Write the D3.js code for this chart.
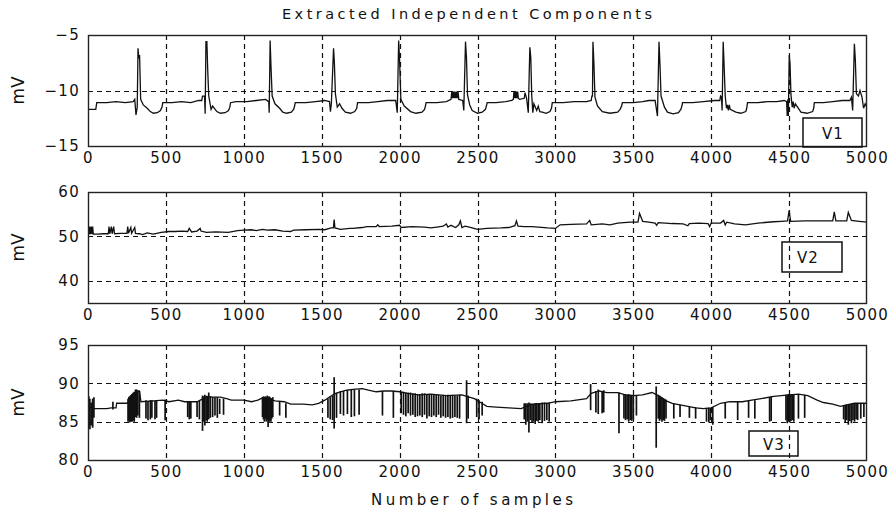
<!DOCTYPE html>
<html><head><meta charset="utf-8">
<script src="https://cdn.jsdelivr.net/npm/d3@7"></script>
<style>body{margin:0;background:#fff;} svg{display:block;}</style>
</head><body>
<svg id="c" width="893" height="515"></svg>
<script>
// ---------- DATA ----------
const title = "Extracted Independent Components";
const xLabel = "Number of samples";
const yLabel = "mV";
const xTicks = [0,500,1000,1500,2000,2500,3000,3500,4000,4500,5000];
const xGrid = [500,1000,1500,2000,2500,3000,3500,4000,4500];
const v1Ticks = [-15,-10,-5];   const v1Grid = [-10];
const v2Ticks = [40,50,60];     const v2Grid = [40,50];
const v3Ticks = [80,85,90,95];  const v3Grid = [85,90];
const legendNames = ["V1","V2","V3"];

// V1: [sample, mV]
const v1 = [
[0,-11.7],[50,-11.7],[56,-11.1],[120,-11.1],[180,-11.0],[240,-11.1],[290,-11.0],[300,-10.8],[308,-12.2],[316,-11.5],[321,-6.2],[326,-7.1],[331,-6.8],[338,-10.8],[355,-11.3],[380,-11.6],[400,-11.9],[420,-12.05],[445,-12.0],[465,-11.8],[475,-11.5],[480,-11.1],
[540,-11.1],[600,-11.0],[660,-11.1],[710,-10.9],[730,-10.9],[735,-10.5],[748,-10.5],[752,-12.1],[757,-5.6],[763,-5.6],[768,-8.0],[775,-10.5],[790,-11.7],[800,-11.4],[827,-11.9],[850,-12.05],[880,-12.0],[902,-11.8],[910,-11.5],[915,-11.1],
[950,-11.0],[1020,-11.0],[1080,-10.9],[1140,-10.8],[1160,-11.0],[1163,-12.0],[1169,-5.5],[1175,-8.0],[1182,-10.5],[1200,-11.2],[1230,-11.6],[1250,-11.95],[1275,-12.05],[1305,-11.95],[1320,-11.7],[1326,-11.4],[1330,-11.1],
[1400,-11.1],[1460,-11.0],[1520,-10.9],[1550,-11.0],[1556,-11.9],[1562,-11.2],[1576,-6.2],[1581,-7.4],[1588,-10.3],[1600,-11.5],[1615,-11.2],[1630,-11.6],[1652,-11.95],[1685,-12.05],[1712,-11.9],[1725,-11.6],[1730,-11.1],
[1800,-11.1],[1860,-11.0],[1920,-10.9],[1975,-10.9],[1985,-12.0],[1994,-5.5],[2000,-7.3],[2008,-10.8],[2030,-11.4],[2070,-11.9],[2105,-12.05],[2144,-11.95],[2160,-11.7],[2166,-11.4],[2170,-11.1],
[2240,-11.1],[2300,-11.0],[2330,-10.8],[2335,-10.1],[2340,-10.7],[2345,-10.1],[2350,-10.7],[2355,-10.1],[2360,-10.7],[2365,-10.1],[2370,-10.7],[2375,-10.1],[2380,-10.8],[2405,-10.9],[2412,-11.8],[2423,-5.6],[2429,-7.0],[2436,-10.4],[2450,-11.3],[2466,-11.8],[2500,-12.05],[2530,-11.95],[2551,-11.7],[2557,-11.4],[2562,-11.1],
[2620,-11.1],[2680,-11.0],[2720,-10.9],[2730,-10.8],[2734,-10.1],[2738,-10.7],[2742,-10.1],[2746,-10.7],[2750,-10.1],[2754,-10.7],[2758,-10.1],[2762,-10.7],[2770,-10.8],[2800,-10.7],[2805,-10.2],[2815,-10.7],[2826,-12.0],[2836,-6.1],[2842,-7.0],[2848,-10.4],[2855,-12.0],[2862,-11.2],[2880,-11.8],[2890,-11.4],[2900,-11.9],[2916,-11.95],[2940,-12.05],[2965,-11.9],[2975,-11.6],[2980,-11.1],
[3050,-11.1],[3120,-11.0],[3200,-11.0],[3230,-10.9],[3234,-10.5],[3238,-10.5],[3241,-5.6],[3247,-7.5],[3254,-10.6],[3270,-11.4],[3301,-11.9],[3350,-12.05],[3400,-11.95],[3415,-11.7],[3425,-11.4],[3430,-11.1],
[3500,-11.1],[3560,-11.0],[3600,-10.9],[3640,-10.9],[3655,-12.3],[3665,-5.6],[3671,-7.6],[3678,-10.5],[3700,-11.5],[3719,-11.95],[3755,-12.1],[3790,-12.0],[3805,-11.7],[3812,-11.4],[3816,-11.1],
[3880,-11.1],[3950,-11.0],[4020,-10.9],[4055,-10.9],[4060,-10.5],[4066,-10.6],[4070,-11.8],[4077,-5.6],[4083,-7.8],[4090,-10.5],[4098,-11.6],[4104,-11.3],[4110,-11.8],[4116,-11.3],[4122,-11.7],[4158,-11.95],[4190,-12.05],[4222,-11.9],[4228,-11.6],[4233,-11.1],
[4300,-11.1],[4360,-11.0],[4420,-11.0],[4470,-10.9],[4484,-11.0],[4488,-12.3],[4492,-10.8],[4495,-12.3],[4501,-6.8],[4506,-7.6],[4512,-10.4],[4520,-11.5],[4526,-11.0],[4532,-11.6],[4540,-11.2],[4576,-11.95],[4615,-12.05],[4651,-11.9],[4658,-11.6],[4662,-11.1],
[4720,-11.1],[4780,-11.0],[4840,-10.9],[4890,-10.9],[4900,-10.6],[4908,-11.8],[4919,-5.8],[4925,-7.2],[4932,-10.3],[4945,-10.5],[4955,-10.0],[4968,-10.6],[4978,-11.6],[4988,-11.2],[5000,-11.5]
];

// V2: [sample, mV]
const v2 = [
[0,50.5],[6,52.2],[8,50.5],[12,52.2],[15,50.5],[22,52.2],[25,50.5],[30,52.2],[34,50.5],[60,50.5],[100,50.6],[130,50.6],[135,52.2],[140,50.6],[150,52.2],[155,50.6],[165,52.2],[170,50.6],[210,50.7],
[250,50.7],[255,52.2],[260,50.7],[275,52.0],[280,50.7],[300,52.0],[305,50.7],[330,50.6],[350,50.4],[380,50.8],[420,50.5],[470,50.9],[520,51.1],[560,51.1],[600,51.2],[640,51.1],[650,51.8],[665,51.0],
[700,51.2],[720,51.8],[725,51.2],[760,50.9],[820,51.0],[900,50.9],[960,51.3],[1000,51.4],[1050,51.5],[1080,51.3],[1120,51.6],[1150,51.4],[1200,51.5],[1250,51.2],[1300,51.1],[1320,51.4],[1400,51.5],
[1480,51.6],[1520,51.5],[1560,51.9],[1575,51.9],[1580,53.8],[1585,51.9],[1620,51.6],[1680,51.8],[1700,51.8],[1760,52.0],[1790,52.2],[1850,52.2],[1860,52.6],[1870,52.2],[1950,52.3],[2000,52.5],
[2010,52.0],[2080,52.2],[2160,52.1],[2200,51.9],[2240,52.1],[2280,52.3],[2300,52.8],[2310,52.1],[2330,52.5],[2360,52.0],[2380,52.6],[2390,53.5],[2400,52.0],[2420,52.3],[2460,52.0],[2500,51.6],
[2560,51.8],[2650,51.9],[2700,52.0],[2740,52.4],[2750,53.5],[2760,52.3],[2800,52.2],[2850,52.2],[2950,51.9],[3000,51.8],[3030,52.6],[3100,52.7],[3200,52.8],[3220,53.6],[3230,52.6],[3300,52.8],
[3350,52.6],[3400,53.0],[3480,53.2],[3530,53.2],[3540,55.2],[3560,53.4],[3600,53.2],[3640,53.0],[3650,52.5],[3660,53.1],[3750,52.9],[3820,52.8],[3850,52.4],[3860,52.9],[3920,53.0],[3980,52.9],
[3990,52.2],[4000,53.0],[4060,53.0],[4080,53.6],[4090,52.6],[4100,53.2],[4150,52.8],[4220,52.6],[4300,53.0],[4400,53.3],[4450,53.4],[4490,53.5],[4500,55.8],[4510,53.4],[4600,53.5],[4700,53.5],
[4780,53.5],[4790,55.5],[4800,53.5],[4870,53.5],[4880,55.4],[4900,53.6],[4950,53.4],[5000,53.2]
];

// V3 slow trace: [sample, mV]
const v3 = [
[0,86.7],[20,86.9],[40,86.7],[120,86.7],[150,86.8],[180,86.8],[184,87.4],[250,87.4],[260,87.6],[300,88.7],[330,89.0],[340,87.6],[420,87.7],[480,87.8],[520,87.6],[580,87.8],[620,87.6],[700,87.6],
[730,87.9],[760,88.3],[800,88.2],[850,88.2],[890,88.0],[920,87.8],[1000,87.8],[1050,87.6],[1090,87.8],[1120,88.1],[1160,88.0],[1200,87.7],[1260,87.6],[1300,87.3],[1380,87.3],[1440,87.2],[1480,87.4],
[1520,87.8],[1550,88.2],[1580,88.6],[1620,88.9],[1660,89.1],[1700,89.2],[1760,89.3],[1800,89.1],[1850,88.9],[1900,89.0],[1950,89.0],[2000,88.9],[2050,88.7],[2120,88.5],[2200,88.6],[2300,88.4],
[2400,88.5],[2430,88.3],[2480,88.0],[2520,87.5],[2560,87.0],[2620,86.9],[2700,86.8],[2780,86.7],[2850,87.3],[2950,87.4],[3000,87.6],[3100,87.7],[3200,88.0],[3230,88.7],[3280,89.0],[3330,88.8],
[3400,88.8],[3450,88.5],[3500,88.4],[3560,88.5],[3620,88.8],[3660,88.4],[3700,87.8],[3750,87.4],[3800,87.2],[3850,87.0],[3900,86.8],[3950,86.7],[4000,86.8],[4060,87.4],[4120,87.6],[4200,87.6],
[4260,87.8],[4320,88.0],[4400,88.3],[4450,88.4],[4500,88.5],[4560,88.6],[4620,88.4],[4680,87.8],[4720,87.5],[4780,87.3],[4830,87.0],[4870,87.2],[4920,87.4],[5000,87.4]
];

// V3 artefact spikes: [sample, top mV, bottom mV]
const v3Spikes = [
[5,88.3,85.0],[12,88.0,84.0],[20,87.5,84.5],[30,88.0,84.2],[38,88.2,85.5],[160,87.6,86.6],
[257,88.0,85.0],[262,88.2,85.2],[267,88.3,84.9],[272,88.4,85.0],[277,88.5,85.0],[282,88.6,85.1],[287,88.7,85.0],[292,88.8,85.2],[297,88.9,85.0],
[305,89.2,85.6],[312,89.2,85.5],[320,89.1,85.8],[330,89.0,85.5],
[372,87.8,85.4],[385,87.7,85.2],[400,87.8,85.3],[410,87.8,85.5],[430,87.7,85.3],[440,87.7,85.5],[495,87.9,85.2],
[640,87.7,85.6],[650,87.7,85.3],[660,87.6,85.4],[700,87.6,85.6],[715,87.7,85.3],
[735,88.4,83.8],[742,88.3,85.0],[750,88.5,84.5],[758,88.2,85.2],[765,88.3,85.0],[775,88.8,85.3],[785,88.3,85.5],[800,88.2,85.6],[815,88.2,85.8],[830,88.2,85.5],[845,88.0,86.0],[870,88.0,85.9],
[1120,88.2,85.6],[1126,88.3,85.3],[1132,88.2,85.0],[1138,88.3,85.4],[1144,88.2,85.0],[1150,88.4,85.2],[1156,88.2,84.3],[1162,88.3,85.0],[1168,88.2,85.1],[1174,88.1,85.0],[1180,88.0,85.4],[1186,88.2,85.6],
[1230,87.7,85.8],[1270,87.4,85.5],
[1540,88.0,85.5],[1555,88.2,85.3],[1570,88.4,85.2],[1580,90.8,84.1],[1595,88.8,85.5],
[1620,89.0,86.0],[1640,89.0,85.8],[1665,89.1,86.0],[1690,89.2,85.6],[1710,89.2,85.7],[1740,89.2,85.9],[1890,89.0,85.8],[1960,89.0,85.5],
[2010,88.9,86.1],[2025,88.9,85.9],[2040,88.8,85.7],[2055,88.8,86.1],[2070,88.8,85.8],[2085,88.7,85.9],[2100,88.7,85.6],[2115,88.6,85.7],
[2130,88.6,85.8],[2145,88.7,85.6],[2160,88.7,85.9],[2175,88.6,85.4],[2190,88.6,85.7],[2205,88.6,85.6],[2220,88.5,85.8],[2235,88.5,85.6],[2250,88.5,85.9],[2265,88.4,85.5],[2280,88.5,85.7],[2295,88.4,85.5],
[2310,88.5,85.6],[2325,88.4,85.4],[2340,88.5,85.5],[2355,88.4,85.6],[2370,88.4,85.5],[2385,88.5,85.4],
[2430,90.4,84.8],[2440,88.4,85.4],[2495,88.0,85.6],[2510,87.8,85.3],[2530,87.6,85.8],
[2800,87.4,85.3],[2810,87.4,84.6],[2820,87.4,85.0],[2830,87.5,83.6],[2840,87.4,85.2],[2850,87.3,84.9],[2860,87.3,85.0],[2870,87.4,84.7],[2880,87.4,85.1],[2890,87.4,85.0],[2900,87.4,85.2],[2915,87.5,84.8],[2930,87.5,85.1],[2945,87.4,85.2],[2960,87.5,85.0],
[3226,89.9,86.5],[3260,89.0,86.2],[3275,89.2,86.0],[3300,89.0,86.1],[3310,89.1,86.2],[3408,88.8,83.5],
[3440,88.6,85.4],[3450,88.6,85.2],[3460,88.5,85.3],[3470,88.6,85.0],[3480,88.5,85.2],[3490,88.5,85.1],[3500,88.5,85.3],[3520,88.4,85.8],
[3647,89.6,81.6],
[3660,88.5,85.4],[3668,88.4,85.1],[3676,88.3,85.3],[3684,88.2,85.0],[3692,88.1,85.2],[3700,88.0,85.1],[3710,87.9,85.4],
[3760,87.4,85.4],[3800,87.2,85.6],[3860,87.0,85.5],[3900,86.9,85.4],
[3970,86.8,85.0],[3985,86.8,84.9],[3995,86.8,85.2],[4010,86.9,84.6],
[4090,87.5,85.4],[4170,87.6,85.2],[4240,87.7,85.5],[4280,87.8,85.4],[4375,88.2,85.0],[4385,88.3,85.1],
[4480,88.5,85.2],[4488,88.5,84.8],[4496,88.6,85.0],[4504,88.6,84.9],[4512,88.6,85.1],[4520,88.6,85.2],[4530,88.6,85.0],[4560,88.6,85.4],[4600,88.5,85.5],
[4850,87.1,85.3],[4860,87.2,84.9],[4870,87.2,85.2],[4880,87.3,84.6],[4890,87.3,85.1],[4900,87.3,84.8],[4910,87.4,85.2],[4920,87.4,85.0],[4930,87.4,85.3],[4940,87.4,85.2],[4960,87.4,85.4],[4980,87.4,85.6]
];

// ---------- DRAW ----------
const svg = d3.select("#c");
const FONT = "'DejaVu Sans', Verdana, sans-serif";
const ink = "#111";
const x = d3.scaleLinear().domain([0,5000]).range([88,867]);

const panels = [
  {name:legendNames[0], dom:[-15,-5], top:35, bot:146, ticks:v1Ticks, grid:v1Grid, data:v1, spikes:[], box:{x0:803,y0:118,w:59,h:29,tx:30}},
  {name:legendNames[1], dom:[35,60], top:192, bot:303, ticks:v2Ticks, grid:v2Grid, data:v2, spikes:[], box:{x0:782,y0:242,w:60,h:30,tx:26}},
  {name:legendNames[2], dom:[80,95], top:345, bot:460, ticks:v3Ticks, grid:v3Grid, data:v3, spikes:v3Spikes, box:{x0:749,y0:431,w:49,h:25,tx:25}}
];

svg.append("text").attr("x",467).attr("y",19).attr("text-anchor","middle")
  .attr("font-family",FONT).attr("font-size",14.5).attr("fill",ink)
  .attr("textLength",370).attr("lengthAdjust","spacing").text(title);

svg.append("text").attr("x",472).attr("y",505).attr("text-anchor","middle")
  .attr("font-family",FONT).attr("font-size",15).attr("fill",ink)
  .attr("textLength",202).attr("lengthAdjust","spacing").text(xLabel);

panels.forEach(p => {
  const y = d3.scaleLinear().domain(p.dom).range([p.bot,p.top]);
  const g = svg.append("g");
  g.selectAll(".vg").data(xGrid).join("line")
    .attr("x1",d=>Math.round(x(d))+0.5).attr("x2",d=>Math.round(x(d))+0.5)
    .attr("y1",p.top).attr("y2",p.bot)
    .attr("stroke",ink).attr("stroke-width",1.2).attr("stroke-dasharray","5,4");
  g.selectAll(".hg").data(p.grid).join("line")
    .attr("x1",x(0)).attr("x2",x(5000))
    .attr("y1",d=>Math.round(y(d))+0.5).attr("y2",d=>Math.round(y(d))+0.5)
    .attr("stroke",ink).attr("stroke-width",1.2).attr("stroke-dasharray","5,4");
  const cid = "clip"+p.name;
  svg.append("clipPath").attr("id",cid).append("rect")
    .attr("x",x(0)).attr("y",p.top).attr("width",x(5000)-x(0)).attr("height",p.bot-p.top);
  const dg = g.append("g").attr("clip-path",`url(#${cid})`);
  dg.append("path").datum(p.data)
    .attr("d", d3.line().x(d=>x(d[0])).y(d=>y(d[1])))
    .attr("fill","none").attr("stroke",ink).attr("stroke-width",1.3).attr("stroke-linejoin","miter");
  dg.selectAll(".sp").data(p.spikes).join("line")
    .attr("x1",d=>x(d[0])).attr("x2",d=>x(d[0]))
    .attr("y1",d=>y(d[1])).attr("y2",d=>y(d[2]))
    .attr("stroke",ink).attr("stroke-width",1.7);
  g.append("rect").attr("x",x(0)+0.5).attr("y",p.top+0.5)
    .attr("width",x(5000)-x(0)-1).attr("height",p.bot-p.top)
    .attr("fill","none").attr("stroke","#222").attr("stroke-width",1.4);
  const xa = d3.axisBottom(x).tickValues(xTicks).tickSize(0).tickPadding(6).tickFormat(d3.format("d"));
  const ax = g.append("g").attr("transform",`translate(0,${p.bot})`).call(xa);
  ax.select(".domain").remove();
  ax.selectAll("text").attr("font-family",FONT).attr("font-size",15).attr("letter-spacing","1.3px").attr("fill",ink);
  const ya = d3.axisLeft(y).tickValues(p.ticks).tickSize(0).tickPadding(8).tickFormat(d=>String(d).replace("-","\u2212"));
  const ay = g.append("g").attr("transform",`translate(${x(0)},0)`).call(ya);
  ay.select(".domain").remove();
  ay.selectAll("text").attr("font-family",FONT).attr("font-size",15).attr("letter-spacing","1.3px").attr("fill",ink);
  svg.append("text").attr("transform",`translate(24,${(p.top+p.bot)/2}) rotate(-90)`)
    .attr("text-anchor","middle").attr("font-family",FONT).attr("font-size",17).attr("fill",ink).text(yLabel);
  g.append("rect").attr("x",p.box.x0).attr("y",p.box.y0).attr("width",p.box.w).attr("height",p.box.h)
    .attr("fill","none").attr("stroke",ink).attr("stroke-width",1.5);
  g.append("text").attr("x",p.box.x0+p.box.tx).attr("y",p.box.y0+p.box.h/2+6)
    .attr("text-anchor","middle").attr("font-family",FONT).attr("font-size",15).attr("letter-spacing","1px")
    .attr("fill",ink).text(p.name);
});
</script>
</body></html>
